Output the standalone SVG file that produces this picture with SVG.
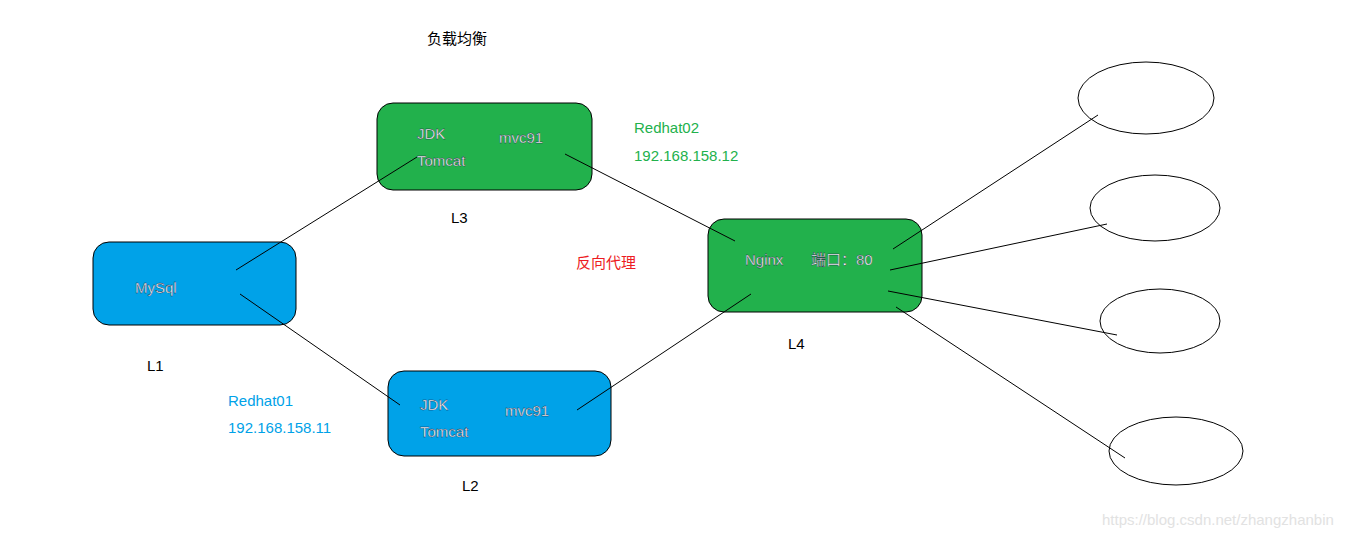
<svg xmlns="http://www.w3.org/2000/svg" width="1358" height="537" viewBox="0 0 1358 537">
<style>
text{font-family:"Liberation Sans","Noto Sans CJK SC",sans-serif;font-size:15px}
.in{fill:#fff;stroke:#1a1a40;stroke-width:0.35}
.g{fill:#22b14c;stroke:#000;stroke-width:1}
.b{fill:#00a2e8;stroke:#000;stroke-width:1}
.e{fill:#fff;stroke:#000;stroke-width:1}
.c line{stroke:#000;stroke-width:1}
</style>
<rect width="1358" height="537" fill="#fff"/>
<text x="427" y="44">负载均衡</text>
<g id="L3"><rect class="g" x="377" y="103" width="215" height="87" rx="16"/>
<text class="in" x="417" y="139">JDK</text><text class="in" x="499" y="143">mvc91</text><text class="in" x="417" y="166">Tomcat</text></g>
<text x="451" y="223">L3</text>
<text x="634" y="133" fill="#22b14c">Redhat02</text><text x="634" y="161" fill="#22b14c">192.168.158.12</text>
<text x="576" y="268" fill="#ed1c24">反向代理</text>
<g id="L1"><rect class="b" x="93" y="242" width="203" height="83" rx="16"/><text class="in" x="135" y="293">MySql</text></g>
<text x="147" y="371">L1</text>
<text x="228" y="406" fill="#00a2e8">Redhat01</text><text x="228" y="433" fill="#00a2e8">192.168.158.11</text>
<g id="L2"><rect class="b" x="388" y="371" width="223" height="85" rx="16"/>
<text class="in" x="420" y="410">JDK</text><text class="in" x="505" y="416">mvc91</text><text class="in" x="420" y="437">Tomcat</text></g>
<text x="462" y="491">L2</text>
<g id="L4"><rect class="g" x="708" y="219" width="214" height="93" rx="16"/>
<text class="in" x="745" y="265">Nginx</text><text class="in" x="811" y="265">端口：80</text></g>
<text x="788" y="349">L4</text>
<g id="e1"><ellipse class="e" cx="1146" cy="98" rx="68" ry="36"/></g>
<g id="e2"><ellipse class="e" cx="1155" cy="208" rx="65" ry="33"/></g>
<g id="e3"><ellipse class="e" cx="1160" cy="321" rx="60" ry="32"/></g>
<g id="e4"><ellipse class="e" cx="1176" cy="451" rx="67" ry="34"/></g>
<g class="c" id="connectors">
<line x1="236" y1="270" x2="417" y2="157"/>
<line x1="240" y1="294" x2="400" y2="405"/>
<line x1="565" y1="154" x2="735" y2="241"/>
<line x1="577" y1="410" x2="751" y2="294"/>
<line x1="893" y1="249" x2="1098" y2="115"/>
<line x1="890" y1="270" x2="1107" y2="224"/>
<line x1="888" y1="291" x2="1117" y2="335"/>
<line x1="896" y1="307" x2="1125" y2="458"/>
</g>
<text x="1102" y="525" fill="#e2e2e2" font-size="14">https://blog.csdn.net/zhangzhanbin</text>
</svg>
